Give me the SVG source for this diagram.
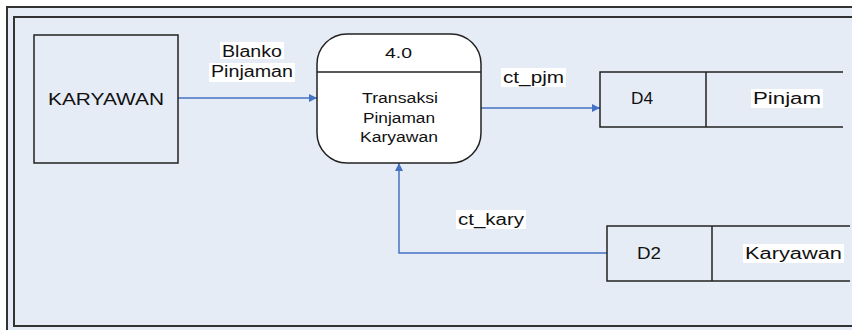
<svg xmlns="http://www.w3.org/2000/svg" width="852" height="330" viewBox="0 0 852 330">
<style>
  .frame{fill:#e6ecf6;stroke:#333;stroke-width:2}
  .box{fill:#e6ecf6;stroke:#222;stroke-width:1.5}
  .line{fill:none;stroke:#222;stroke-width:1.5}
  .conn{fill:none;stroke:#4472c4;stroke-width:1.5}
  text{font-family:"Liberation Sans",Arial,sans-serif;font-size:16px;fill:#111;text-anchor:middle}
  .small{font-size:14px}
  .lblbg{fill:#ffffff}
</style>
<defs>
  <marker id="arr" viewBox="0 0 10 10" refX="10" refY="5" markerWidth="9" markerHeight="8" orient="auto" markerUnits="userSpaceOnUse">
    <path d="M0,0 L10,5 L0,10 z" fill="#4472c4"/>
  </marker>
</defs>
<rect x="0" y="0" width="852" height="330" fill="#ffffff"/>
<rect x="7" y="7" width="860" height="340" class="frame"/>
<rect x="14" y="17" width="850" height="309" class="frame"/>

<g id="connectors">
  <line class="conn" x1="178" y1="98" x2="317" y2="98" marker-end="url(#arr)"/>
  <line class="conn" x1="481" y1="108" x2="600" y2="108" marker-end="url(#arr)"/>
  <polyline class="conn" points="607,253 399,253 399,163" marker-end="url(#arr)"/>
  <rect class="lblbg" x="220" y="42" width="64" height="17"/>
  <rect class="lblbg" x="209" y="63" width="86" height="19"/>
  <text x="252" y="57" textLength="60" lengthAdjust="spacingAndGlyphs">Blanko</text>
  <text x="252" y="77" textLength="82" lengthAdjust="spacingAndGlyphs">Pinjaman</text>
  <rect class="lblbg" x="501" y="68" width="65" height="19"/>
  <text x="533.5" y="83" textLength="61" lengthAdjust="spacingAndGlyphs">ct_pjm</text>
  <rect class="lblbg" x="456" y="210" width="70" height="19"/>
  <text x="491" y="225" textLength="66" lengthAdjust="spacingAndGlyphs">ct_kary</text>
</g>

<g id="karyawan">
  <rect class="box" x="34" y="35" width="144" height="128"/>
  <text x="106" y="105" textLength="116" lengthAdjust="spacingAndGlyphs">KARYAWAN</text>
</g>

<g id="proses-4-0">
  <rect x="317" y="34" width="164" height="129" rx="30" ry="30" fill="#ffffff" stroke="#222" stroke-width="1.5"/>
  <line class="line" x1="317" y1="72" x2="481" y2="72"/>
  <text class="small" x="398.5" y="58" textLength="27" lengthAdjust="spacingAndGlyphs">4.0</text>
  <text class="small" x="400" y="103" textLength="76" lengthAdjust="spacingAndGlyphs">Transaksi</text>
  <text class="small" x="399" y="123" textLength="72" lengthAdjust="spacingAndGlyphs">Pinjaman</text>
  <text class="small" x="399" y="142" textLength="78" lengthAdjust="spacingAndGlyphs">Karyawan</text>
</g>

<g id="d4-pinjam">
  <polyline class="line" points="843,72 600,72 600,127 843,127"/>
  <line class="line" x1="706" y1="72" x2="706" y2="127"/>
  <text x="642" y="104" textLength="22" lengthAdjust="spacingAndGlyphs">D4</text>
  <rect class="lblbg" x="751" y="89" width="72" height="19"/>
  <text x="787" y="104" textLength="68" lengthAdjust="spacingAndGlyphs">Pinjam</text>
</g>

<g id="d2-karyawan">
  <polyline class="line" points="850,226 607,226 607,281 850,281"/>
  <line class="line" x1="712" y1="226" x2="712" y2="281"/>
  <text x="649" y="259" textLength="24" lengthAdjust="spacingAndGlyphs">D2</text>
  <rect class="lblbg" x="743" y="244" width="101" height="19"/>
  <text x="793.5" y="259" textLength="97" lengthAdjust="spacingAndGlyphs">Karyawan</text>
</g>
</svg>
